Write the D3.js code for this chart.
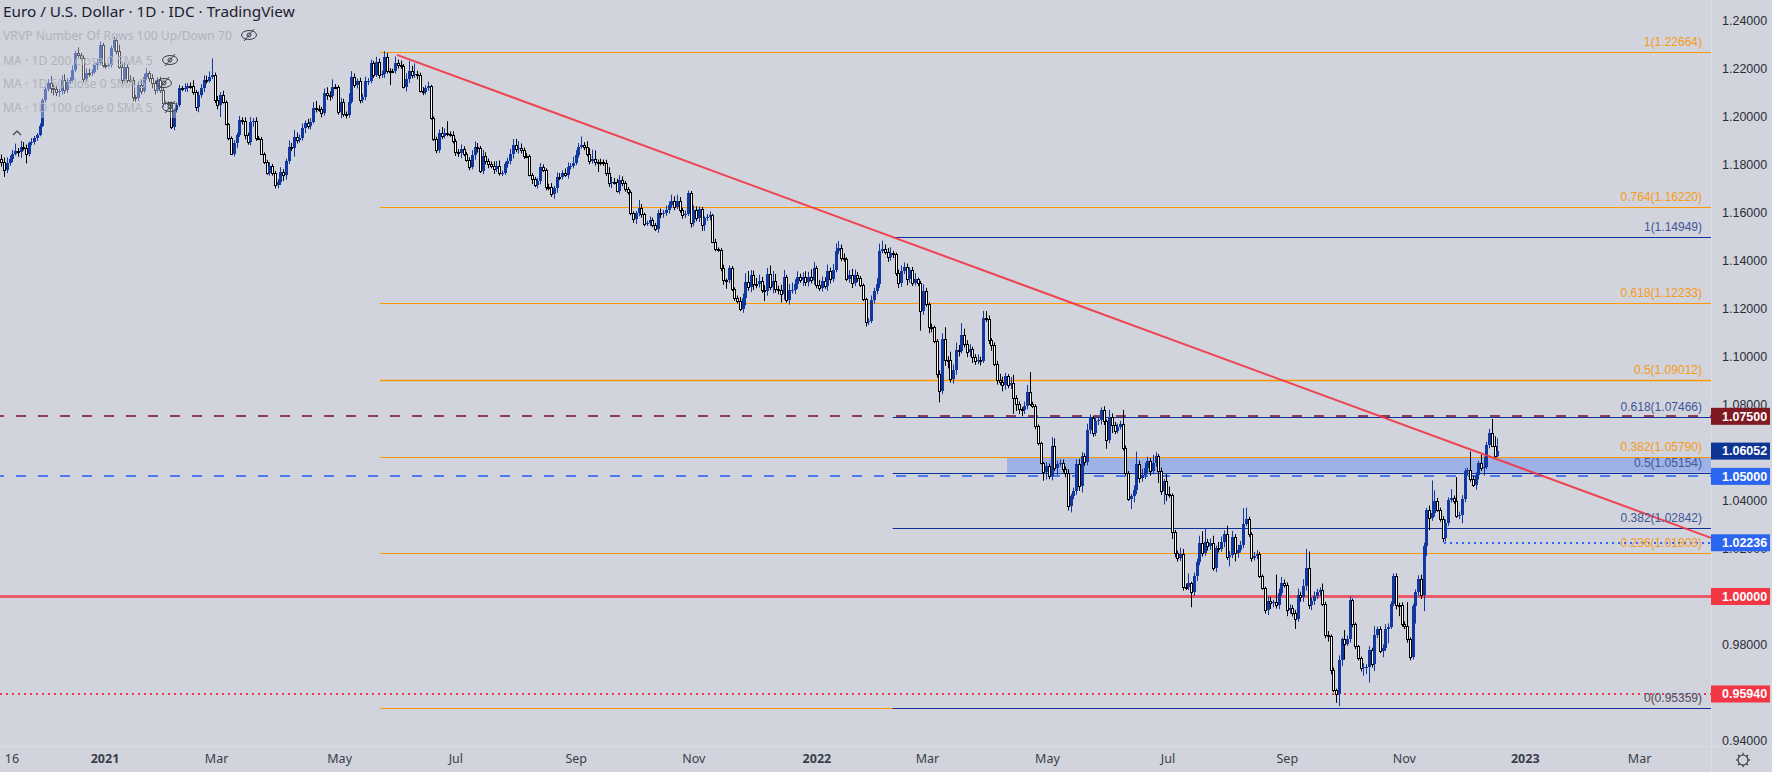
<!DOCTYPE html>
<html><head><meta charset="utf-8">
<script src="https://d3js.org/d3.v7.min.js"></script>
<style>html,body{margin:0;padding:0;background:#d1d4dc;overflow:hidden}text{font-family:"Noto Sans",sans-serif}
.price text{font-family:"Liberation Sans",sans-serif;font-size:12.5px;fill:#2a2e39}
.time text{font-family:"Noto Sans",sans-serif;font-size:12.5px;fill:#3a3e49}
</style></head><body><svg id="c" width="1772" height="772"></svg>
<script>
const title="Euro / U.S. Dollar · 1D · IDC · TradingView";
const legendRows=["VRVP Number Of Rows 100 Up/Down 70","MA · 1D 200 close 0 SMA 5","MA · 1D 50 close 0 SMA 5","MA · 1D 100 close 0 SMA 5"];
const priceTicks=[1.24,1.22,1.20,1.18,1.16,1.14,1.12,1.10,1.08,1.06,1.04,1.02,1.00,0.98,0.96,0.94];
const timeLabels=["16","2021","Mar","May","Jul","Sep","Nov","2022","Mar","May","Jul","Sep","Nov","2023","Mar"];
const timeBars=[3.7,37.7,78.5,123.5,166,210,253,298,338.4,382.3,426.4,470,512.8,557,598.8];
const firstOpen=1.1820;
const closes=[
1.1810,1.1775,1.1803,1.1823,1.1844,1.1855,1.1851,1.1872,1.1869,1.1842,
1.1886,1.1893,1.1907,1.1921,1.1960,1.2066,1.2111,1.2136,1.2115,1.2111,
1.2101,1.2104,1.2150,1.2108,1.2143,1.2150,1.2191,1.2261,1.2255,1.2240,
1.2153,1.2180,1.2178,1.2185,1.2212,1.2219,1.2295,1.2212,1.2210,1.2212,
1.2282,1.2316,1.2272,1.2205,1.2150,1.2205,1.2150,1.2150,1.2080,1.2075,
1.2129,1.2105,1.2164,1.2178,1.2157,1.2136,1.2108,1.2152,1.2108,1.2055,
1.2056,1.2055,1.1956,1.2025,1.2046,1.2115,1.2114,1.2116,1.2125,1.2124,
1.2101,1.2036,1.2087,1.2115,1.2150,1.2147,1.2164,1.2171,1.2069,1.2046,
1.2087,1.2060,1.1967,1.1907,1.1844,1.1886,1.1921,1.1983,1.1980,1.1921,
1.1893,1.1976,1.1980,1.1907,1.1905,1.1844,1.1810,1.1764,1.1793,1.1762,
1.1714,1.1725,1.1769,1.1755,1.1811,1.1873,1.1866,1.1912,1.1901,1.1908,
1.1949,1.1970,1.1959,1.1977,1.2033,1.2030,1.2030,1.2012,1.2095,1.2088,
1.2084,1.2123,1.2120,1.2016,1.2060,1.2009,1.2005,1.2060,1.2162,1.2130,
1.2148,1.2065,1.2078,1.2144,1.2146,1.2220,1.2171,1.2227,1.2171,1.2174,
1.2248,1.2189,1.2189,1.2189,1.2223,1.2213,1.2209,1.2123,1.2153,1.2189,
1.2169,1.2174,1.2171,1.2106,1.2102,1.2116,1.2125,1.1991,1.1904,1.1857,
1.1929,1.1919,1.1929,1.1926,1.1922,1.1898,1.1852,1.1845,1.1862,1.1843,
1.1818,1.1790,1.1838,1.1873,1.1866,1.1773,1.1834,1.1811,1.1801,1.1793,
1.1779,1.1793,1.1762,1.1765,1.1800,1.1811,1.1843,1.1880,1.1862,1.1866,
1.1859,1.1834,1.1832,1.1755,1.1737,1.1714,1.1728,1.1789,1.1775,1.1706,
1.1706,1.1676,1.1699,1.1748,1.1748,1.1762,1.1755,1.1789,1.1792,1.1806,
1.1838,1.1873,1.1880,1.1870,1.1842,1.1814,1.1820,1.1809,1.1807,1.1807,
1.1803,1.1762,1.1720,1.1727,1.1727,1.1690,1.1734,1.1720,1.1695,1.1683,
1.1595,1.1570,1.1595,1.1616,1.1592,1.1551,1.1554,1.1567,1.1547,1.1529,
1.1595,1.1595,1.1597,1.1609,1.1630,1.1648,1.1623,1.1648,1.1609,1.1588,
1.1592,1.1678,1.1556,1.1609,1.1574,1.1612,1.1547,1.1574,1.1581,1.1588,
1.1477,1.1445,1.1443,1.1366,1.1318,1.1316,1.1366,1.1279,1.1241,1.1232,
1.1196,1.1241,1.1311,1.1287,1.1339,1.1301,1.1301,1.1315,1.1276,1.1272,
1.1343,1.1287,1.1315,1.1279,1.1278,1.1260,1.1329,1.1235,1.1276,1.1277,
1.1301,1.1329,1.1318,1.1329,1.1311,1.1332,1.1318,1.1367,1.1298,1.1284,
1.1314,1.1293,1.1357,1.1321,1.1360,1.1440,1.1450,1.1408,1.1404,1.1321,
1.1339,1.1304,1.1339,1.1325,1.1298,1.1238,1.1142,1.1148,1.1235,1.1270,
1.1300,1.1439,1.1446,1.1436,1.1413,1.1429,1.1427,1.1346,1.1304,1.1353,
1.1371,1.1321,1.1360,1.1304,1.1321,1.1304,1.1187,1.1270,1.1217,1.1121,
1.1120,1.1062,1.0926,1.0854,1.1071,1.0985,1.0984,1.0906,1.0941,1.1027,
1.1024,1.1090,1.1052,1.1016,1.1030,1.0997,1.0979,1.0983,1.0982,1.1159,
1.1155,1.1066,1.1048,1.0969,1.0902,1.0895,1.0879,1.0916,1.0879,1.0888,
1.0826,1.0802,1.0780,1.0775,1.0791,1.0851,1.0801,1.0795,1.0708,1.0639,
1.0555,1.0517,1.0544,1.0503,1.0628,1.0535,1.0551,1.0555,1.0531,1.0514,
1.0378,1.0417,1.0438,1.0553,1.0458,1.0586,1.0558,1.0694,1.0743,1.0680,
1.0729,1.0736,1.0777,1.0729,1.0650,1.0747,1.0715,1.0691,1.0705,1.0719,
1.0618,1.0514,1.0406,1.0417,1.0444,1.0551,1.0493,1.0507,1.0535,1.0562,
1.0521,1.0555,1.0583,1.0521,1.0438,1.0479,1.0428,1.0421,1.0267,1.0181,
1.0160,1.0178,1.0039,1.0039,1.0056,1.0017,1.0084,1.0142,1.0223,1.0181,
1.0225,1.0209,1.0223,1.0119,1.0202,1.0198,1.0225,1.0260,1.0164,1.0174,
1.0248,1.0181,1.0195,1.0216,1.0303,1.0322,1.0260,1.0160,1.0170,1.0178,
1.0087,1.0036,0.9943,0.9980,0.9973,0.9976,0.9965,1.0015,1.0056,1.0049,
0.9943,0.9952,0.9932,0.9907,1.0008,0.9998,1.0042,1.0119,0.9963,0.9980,
1.0001,1.0017,1.0026,0.9970,0.9841,0.9837,0.9696,0.9610,0.9596,0.9735,
0.9821,0.9804,0.9823,0.9987,0.9887,0.9793,0.9744,0.9703,0.9707,0.9708,
0.9779,0.9719,0.9841,0.9865,0.9772,0.9786,0.9865,0.9873,0.9970,1.0084,
0.9966,0.9966,0.9886,0.9876,0.9823,0.9748,0.9962,1.0019,1.0073,1.0008,
1.0212,1.0359,1.0327,1.0348,1.0396,1.0362,1.0323,1.0244,1.0306,1.0403,
1.0410,1.0396,1.0337,1.0341,1.0407,1.0521,1.0528,1.0489,1.0466,1.0507,
1.0556,1.0533,1.0538,1.0632,1.0681,1.0628,1.0586,1.0605];
// wick lengths in pips, read per bar
const upperWicks=[
20,18,25,12,15,30,12,25,20,12,
8,15,10,8,10,8,12,18,30,15,
15,10,20,25,15,12,20,12,25,8,
12,20,18,10,8,20,15,10,8,8,
12,15,10,25,15,18,10,20,12,8,
15,20,12,22,10,18,12,10,12,8,
8,5,6,8,10,15,10,20,12,15,
25,8,15,18,20,18,22,69,10,15,
12,18,5,4,8,15,10,18,12,15,
10,20,12,15,10,8,5,8,15,8,
10,12,18,10,12,25,15,30,20,15,
20,12,18,15,25,30,15,8,20,25,
15,30,10,8,15,12,10,35,25,15,
8,12,15,20,12,15,10,20,12,15,
22,15,10,8,25,12,18,8,25,40,
20,45,15,10,15,12,18,5,8,10,
15,25,20,50,10,15,8,10,20,12,
8,10,20,22,15,10,25,15,12,10,
18,20,22,8,10,15,20,25,25,30,
20,10,12,8,8,10,15,15,10,8,
12,15,10,18,15,12,20,18,12,25,
20,15,35,12,25,25,40,37,10,15,
12,15,25,20,15,12,20,15,10,10,
8,8,10,35,18,6,10,15,10,8,
15,20,12,18,15,25,18,25,15,10,
15,12,10,20,15,12,10,8,12,15,
5,12,8,8,15,6,12,10,8,12,
15,20,35,44,20,18,25,25,15,20,
25,35,40,28,15,20,30,10,25,30,
20,25,15,20,25,20,30,25,10,20,
18,15,25,12,25,30,30,15,20,8,
20,25,22,12,10,5,6,10,18,15,
25,30,35,20,15,25,10,5,15,25,
20,15,10,12,25,6,10,30,15,8,
15,8,10,15,25,50,15,35,25,30,
20,48,25,15,20,10,12,25,15,30,
29,15,10,10,12,25,20,15,10,25,
35,12,10,8,20,30,83,10,5,8,
5,5,15,10,35,30,15,15,15,10,
15,10,15,18,20,15,10,25,15,10,
15,10,10,15,8,30,15,12,15,12,
58,10,8,10,18,52,15,25,22,20,
15,35,18,10,15,10,30,30,8,10,
10,25,20,15,40,5,15,15,30,49,
57,15,18,30,10,25,25,15,35,15,
25,12,20,15,65,48,10,8,15,15,
8,5,5,20,18,10,115,18,25,15,
10,15,12,12,25,12,30,79,68,15,
20,15,12,28,8,15,5,8,6,20,
8,39,15,14,4,5,5,6,15,10,
15,8,35,10,11,15,20,15,10,12,
12,8,10,10,100,8,8,10,15,18,
12,10,20,135,46,15,8,12,15,10,
37,10,101,12,15,12,8,76,15,10,
8,35,45,12,17,58,39,53];
const lowerWicks=[
20,28,12,10,15,8,20,25,12,39,
10,8,12,10,5,6,10,8,20,25,
18,22,15,15,12,10,10,8,10,8,
12,8,15,12,10,20,8,10,12,8,
10,12,15,8,15,10,12,10,18,15,
12,15,10,12,15,20,18,10,12,15,
8,8,10,15,10,8,10,12,15,10,
12,15,20,10,15,12,8,10,15,18,
50,8,6,8,5,12,20,8,15,18,
12,15,20,10,5,6,10,8,12,10,
15,15,12,25,20,10,12,35,15,12,
10,20,12,15,8,15,12,18,10,20,
20,12,8,10,25,12,15,12,8,12,
15,12,10,12,15,10,12,8,15,12,
15,12,60,10,12,15,12,8,20,15,
12,10,18,8,15,12,10,6,8,12,
10,15,12,10,8,12,18,15,20,10,
8,15,12,20,18,10,15,12,18,10,
20,12,10,12,10,15,12,20,12,18,
15,12,8,6,20,10,15,12,8,15,
15,12,20,18,15,12,8,15,12,10,
10,12,8,12,10,15,12,15,40,12,
10,12,15,20,12,8,15,12,10,10,
8,15,20,12,15,10,8,12,10,8,
15,20,18,12,15,12,15,10,12,15,
12,8,20,15,12,15,25,25,10,15,
6,8,8,12,20,35,12,8,10,12,
8,15,30,15,20,25,18,15,12,42,
20,12,25,15,20,36,25,12,20,15,
18,20,12,25,18,20,15,20,15,12,
15,12,20,18,12,10,15,12,10,8,
15,20,12,15,10,8,18,12,10,15,
12,15,10,12,20,15,18,12,20,15,
10,25,15,12,10,12,80,15,10,25,
20,8,15,46,12,25,35,15,20,18,
25,12,15,20,18,25,15,12,20,10,
12,15,25,10,20,15,25,18,12,15,
65,30,20,25,15,12,8,10,12,10,
5,35,30,15,20,12,30,10,15,18,
20,28,12,15,18,25,15,12,18,15,
12,15,20,15,35,12,35,15,12,10,
10,10,8,42,25,18,20,15,18,20,
18,12,15,48,15,55,30,10,28,18,
15,12,15,12,12,62,15,20,12,15,
12,18,15,12,18,15,12,20,12,39,
15,35,20,12,15,10,12,15,10,15,
10,8,15,20,25,18,15,18,12,12,
25,15,15,42,12,20,20,18,15,20,
15,12,15,10,15,25,20,8,39,53,
25,67,10,15,15,12,10,15,33,30,
66,15,30,15,8,25,12,60,8,10,
20,48,12,12,15,14,10,75,15,18,
69,44,51,12,15,10,12,18,15,12,
12,10,10,15,36,15,18,12,10,21,
20,10,30,8,15,6,8,7];
const orangeFibRatios=["1","0.764","0.618","0.5","0.382","0.236","0"];
const orangeFibLevels=[1.22664,1.16220,1.12233,1.09012,1.05790,1.01803,0.95359];
const blueFibRatios=["1","0.618","0.5","0.382","0"];
const blueFibLevels=[1.14949,1.07466,1.05154,1.02842,0.95359];
const orangeFibStartBar=138.4, blueFibStartBar=325.9, zoneStartBar=367.7;
const trendBars=[144.65,625.1], trendPrices=[1.2255,1.0244];
const priceTags=[1.07500,1.06052,1.05000,1.02236,1.00000,0.95940];
const tagColors=["#801922","#0d3594","#2c66f0","#2c66f0","#f23645","#f23645"];

const W=1772,H=772,plotR=1711,axisY=746;
const svg=d3.select("#c");
const xs=d3.scaleLinear().domain([0,547]).range([1.37,1497.4]);
const ys=d3.scaleLinear().domain([0.94,1.24]).range([740.6,20]);
const ORANGE="#ff9800",BLUE="#0c3299";
svg.append("rect").attr("width",W).attr("height",H).attr("fill","#d1d4dc");
// zone
svg.append("rect").attr("x",xs(zoneStartBar)).attr("width",plotR-xs(zoneStartBar))
 .attr("y",ys(1.05790)).attr("height",ys(1.05154)-ys(1.05790)).attr("fill","#2962ff").attr("opacity",.3);
const hline=(g,p,x0,col,w,dash,op)=>{const yy=Math.round(ys(p))+(w%2?0.5:0);
 g.append("line").attr("x1",x0).attr("x2",plotR).attr("y1",yy).attr("y2",yy).attr("stroke",col).attr("stroke-width",w)
 .attr("stroke-dasharray",dash||null).attr("opacity",op||1);};
const lines=svg.append("g");
orangeFibLevels.forEach(p=>hline(lines,p,xs(orangeFibStartBar),ORANGE,p===1.09012?1.5:1));
blueFibLevels.forEach(p=>hline(lines,p,xs(blueFibStartBar),BLUE,1));
hline(lines,1.0,0,"#e95b6a",3);
hline(lines,0.9594,0,"#f23645",2,"2 4");
hline(lines,1.075,-6,"#8a3048",2,"10 12",.9);
hline(lines,1.05,-6,"#4a7cf0",2,"10 12");
hline(lines,1.02236,xs(527.5),"#2962ff",2,"2 4");
// candles
const bars=closes.map((c,i)=>{const o=i?closes[i-1]:firstOpen;
 return {i,o,c,h:Math.max(o,c)+upperWicks[i]/1e4,l:Math.min(o,c)-lowerWicks[i]/1e4,up:c>o};});
const cg=svg.append("g");
const bx=d=>Math.round(xs(d.i));
cg.selectAll("line").data(bars).join("line").attr("x1",d=>bx(d)+.5).attr("x2",d=>bx(d)+.5)
 .attr("y1",d=>ys(d.h)).attr("y2",d=>ys(d.l)).attr("stroke",d=>d.up?"#1038a0":"#000").attr("stroke-width",1);
cg.selectAll("rect").data(bars).join("rect")
 .attr("x",d=>d.up?bx(d)-1:bx(d)-.5).attr("width",d=>d.up?3:2)
 .attr("y",d=>Math.round(ys(Math.max(d.o,d.c)))+(d.up?0:.5))
 .attr("height",d=>Math.max(1,Math.abs(Math.round(ys(d.o))-Math.round(ys(d.c)))))
 .attr("fill",d=>d.up?"#1038a0":"#fff").attr("stroke",d=>d.up?"none":"#000").attr("stroke-width",1);
// trendline
svg.append("path").datum(trendBars.map((b,k)=>[b,trendPrices[k]]))
 .attr("d",d3.line().x(d=>xs(d[0])).y(d=>ys(d[1]))).attr("fill","none").attr("stroke","#f23645").attr("stroke-width",2).attr("opacity",.92);
// legend fade
svg.append("rect").attr("x",0).attr("y",24).attr("width",176).attr("height",94).attr("fill","#d1d4dc").attr("opacity",.42);
svg.append("text").text(title).attr("x",3).attr("y",17).attr("font-size",15.3).attr("fill","#1c2030");
const rowY=[40,65,88,112],eyeX=[249,170,164,170];
legendRows.forEach((t,i)=>{svg.append("text").text(t).attr("x",3).attr("y",rowY[i]).attr("font-size",12.2).attr("fill","#b0b3bd");
 const g=svg.append("g").attr("transform",`translate(${eyeX[i]},${rowY[i]-5})`).attr("fill","none").attr("stroke","#3a3e49").attr("stroke-width",1);
 g.append("ellipse").attr("rx",7.5).attr("ry",4.5);g.append("circle").attr("r",2);g.append("line").attr("x1",-5).attr("y1",6).attr("x2",5).attr("y2",-6);});
svg.append("path").attr("d","M13 135 L17 131 L21 135").attr("fill","none").attr("stroke","#3a3e49").attr("stroke-width",1.2);
// fib labels
const fibLab=(ratios,levels,col)=>svg.append("g").selectAll("text").data(levels).join("text")
 .text((d,i)=>`${ratios[i]}(${d.toFixed(5)})`).attr("x",1702).attr("y",d=>ys(d)-6).attr("text-anchor","end")
 .style("font-family",'"Liberation Sans",sans-serif').attr("font-size",12).attr("fill",col);
fibLab(orangeFibRatios,orangeFibLevels,"#f79a16");
fibLab(blueFibRatios,blueFibLevels,"#3f5699");
// axes borders
svg.append("line").attr("x1",0).attr("x2",W).attr("y1",axisY+.5).attr("y2",axisY+.5).attr("stroke","#d9dce3");
svg.append("line").attr("x1",plotR+.5).attr("x2",plotR+.5).attr("y1",0).attr("y2",H).attr("stroke","#d9dce3");
// price axis
const pa=svg.append("g").attr("class","price").attr("transform",`translate(${plotR},0)`)
 .call(d3.axisRight(ys).tickValues(priceTicks).tickSize(0).tickPadding(11).tickFormat(d3.format(".5f")));
pa.select(".domain").remove();
// tags
const tg=svg.append("g").selectAll("g").data(priceTags).join("g").attr("transform",d=>`translate(${plotR},${ys(d)})`);
tg.append("rect").attr("x",0).attr("y",-8.5).attr("width",59).attr("height",17).attr("fill",(d,i)=>tagColors[i]);
tg.append("text").text(d=>d.toFixed(5)).attr("x",11).attr("dy","0.34em").attr("fill","#fff").attr("font-weight",700)
 .style("font-family",'"Liberation Sans",sans-serif').attr("font-size",12.5);
// time axis
const ta=svg.append("g").attr("class","time").attr("transform",`translate(0,${axisY})`)
 .call(d3.axisBottom(xs).tickValues(timeBars).tickSize(0).tickPadding(8).tickFormat((d,i)=>timeLabels[i]));
ta.select(".domain").remove();
ta.selectAll("text").filter((d,i)=>/^20/.test(timeLabels[i])).attr("fill","#131722").attr("font-weight",700);
// gear
const gear=svg.append("g").attr("transform","translate(1743,760)").attr("fill","none").attr("stroke","#2a2e39").attr("stroke-width",1.1);
gear.append("circle").attr("r",5);
d3.range(8).forEach(k=>{const a=k*Math.PI/4;gear.append("line").attr("x1",5*Math.cos(a)).attr("y1",5*Math.sin(a)).attr("x2",7.2*Math.cos(a)).attr("y2",7.2*Math.sin(a));});
</script></body></html>
